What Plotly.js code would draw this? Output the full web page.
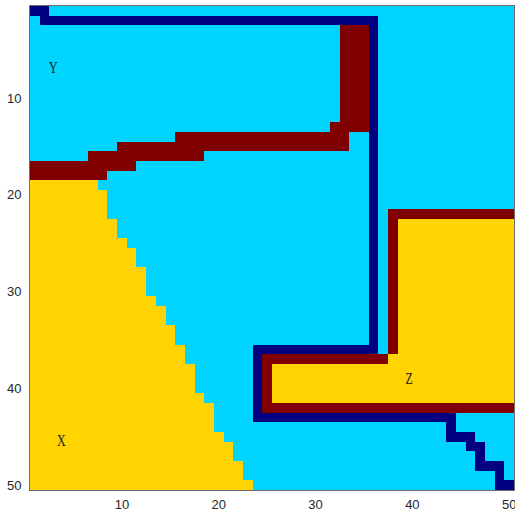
<!DOCTYPE html>
<html>
<head>
<meta charset="utf-8">
<script src="https://cdn.plot.ly/plotly-3.0.1.min.js"></script>
<style>
html,body{margin:0;padding:0;background:#fff;}
#chart{width:515px;height:513px;}
</style>
</head>
<body>
<div id="chart"></div>
<script>
// Class map, one string per row (row 1 at top), 50 cells per row, grouped by 10.
// 1 = boundary (navy), 2 = region Y (cyan), 3 = regions X/Z (yellow), 4 = border (dark red)
var gridRows = [
"1122222222 2222222222 2222222222 2222222222 2222222222",
"2111111111 1111111111 1111111111 1111112222 2222222222",
"2222222222 2222222222 2222222222 2244412222 2222222222",
"2222222222 2222222222 2222222222 2244412222 2222222222",
"2222222222 2222222222 2222222222 2244412222 2222222222",
"2222222222 2222222222 2222222222 2244412222 2222222222",
"2222222222 2222222222 2222222222 2244412222 2222222222",
"2222222222 2222222222 2222222222 2244412222 2222222222",
"2222222222 2222222222 2222222222 2244412222 2222222222",
"2222222222 2222222222 2222222222 2244412222 2222222222",
"2222222222 2222222222 2222222222 2244412222 2222222222",
"2222222222 2222222222 2222222222 2244412222 2222222222",
"2222222222 2222222222 2222222222 2444412222 2222222222",
"2222222222 2222244444 4444444444 4442212222 2222222222",
"2222222224 4444444444 4444444444 4442212222 2222222222",
"2222224444 4444444422 2222222222 2222212222 2222222222",
"4444444444 4222222222 2222222222 2222212222 2222222222",
"4444444422 2222222222 2222222222 2222212222 2222222222",
"3333333222 2222222222 2222222222 2222212222 2222222222",
"3333333322 2222222222 2222222222 2222212222 2222222222",
"3333333322 2222222222 2222222222 2222212222 2222222222",
"3333333322 2222222222 2222222222 2222212444 4444444444",
"3333333332 2222222222 2222222222 2222212433 3333333333",
"3333333332 2222222222 2222222222 2222212433 3333333333",
"3333333333 2222222222 2222222222 2222212433 3333333333",
"3333333333 3222222222 2222222222 2222212433 3333333333",
"3333333333 3222222222 2222222222 2222212433 3333333333",
"3333333333 3322222222 2222222222 2222212433 3333333333",
"3333333333 3322222222 2222222222 2222212433 3333333333",
"3333333333 3322222222 2222222222 2222212433 3333333333",
"3333333333 3332222222 2222222222 2222212433 3333333333",
"3333333333 3333222222 2222222222 2222212433 3333333333",
"3333333333 3333222222 2222222222 2222212433 3333333333",
"3333333333 3333322222 2222222222 2222212433 3333333333",
"3333333333 3333322222 2222222222 2222212433 3333333333",
"3333333333 3333332222 2221111111 1111112433 3333333333",
"3333333333 3333332222 2221444444 4444444333 3333333333",
"3333333333 3333333222 2221433333 3333333333 3333333333",
"3333333333 3333333222 2221433333 3333333333 3333333333",
"3333333333 3333333222 2221433333 3333333333 3333333333",
"3333333333 3333333322 2221433333 3333333333 3333333333",
"3333333333 3333333332 2221444444 4444444444 4444444444",
"3333333333 3333333332 2221111111 1111111111 1111222222",
"3333333333 3333333332 2222222222 2222222222 2221222222",
"3333333333 3333333333 2222222222 2222222222 2221112222",
"3333333333 3333333333 3222222222 2222222222 2222211222",
"3333333333 3333333333 3222222222 2222222222 2222221222",
"3333333333 3333333333 3322222222 2222222222 2222221112",
"3333333333 3333333333 3322222222 2222222222 2222222212",
"3333333333 3333333333 3332222222 2222222222 2222222211"
];
var classColors = ["#000080", "#00D4FF", "#FFD400", "#800000"];
var xTicks = [10, 20, 30, 40, 50];
var yTicks = [10, 20, 30, 40, 50];
var labelText = ["Y", "X", "Z"];
var labelX = [2.9, 3.7, 39.7];
var labelY = [6.9, 45.4, 39.0];

var z = gridRows.map(function (s) {
  return s.replace(/\s+/g, "").split("").map(Number);
});
var nCols = z[0].length;
var xs = [], ys = [];
for (var i = 1; i <= nCols; i++) xs.push(i);
for (var j = 1; j <= z.length; j++) ys.push(j);

var trace = {
  type: "heatmap",
  x: xs,
  y: ys,
  z: z,
  zmin: 1,
  zmax: 4,
  colorscale: [[0, classColors[0]], [1/3, classColors[1]], [2/3, classColors[2]], [1, classColors[3]]],
  showscale: false,
  hoverinfo: "skip"
};

var axisFont = {family: "Liberation Sans, Arial, sans-serif", size: 13, color: "#262626"};

var layout = {
  width: 515,
  height: 513,
  margin: {l: 30, r: 1, t: 6, b: 23, pad: 0},
  paper_bgcolor: "#ffffff",
  plot_bgcolor: "#ffffff",
  showlegend: false,
  xaxis: {
    range: [0.5, 50.5],
    tickvals: xTicks,
    ticktext: xTicks.map(String),
    ticks: "",
    showgrid: false,
    zeroline: false,
    showline: true,
    mirror: true,
    linecolor: "#6e6e6e",
    linewidth: 1,
    tickfont: axisFont,
    ticklabelstandoff: 2,
    ticklabeloverflow: "allow"
  },
  yaxis: {
    range: [50.5, 0.5],
    tickvals: yTicks,
    ticktext: yTicks.map(String),
    ticks: "",
    showgrid: false,
    zeroline: false,
    showline: true,
    mirror: true,
    linecolor: "#6e6e6e",
    linewidth: 1,
    tickfont: axisFont,
    ticklabelstandoff: 5,
    ticklabeloverflow: "allow"
  },
  annotations: labelText.map(function (t, k) {
    return {
      x: labelX[k], y: labelY[k], xref: "x", yref: "y",
      text: t, showarrow: false,
      xanchor: "center", yanchor: "middle",
      font: {family: "Liberation Serif, Times New Roman, serif", size: 17, color: "#1a1a1a"}
    };
  })
};

Plotly.newPlot("chart", [trace], layout, {staticPlot: true, displayModeBar: false}).then(function () {
  var texts = document.querySelectorAll("#chart .annotation-text");
  texts.forEach(function (el) {
    el.style.transformBox = "fill-box";
    el.style.transformOrigin = "center";
    el.style.transform = "scaleX(0.7)";
  });
});
</script>
</body>
</html>
